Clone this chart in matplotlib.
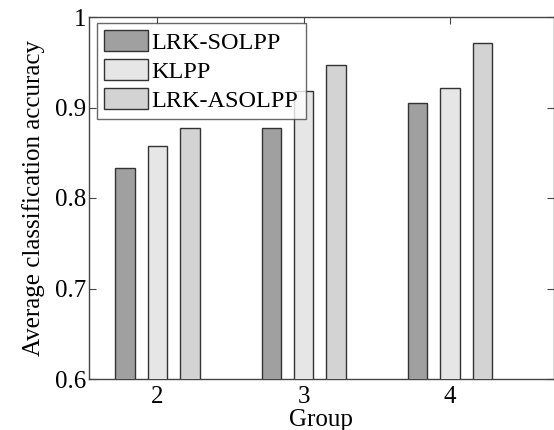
'''grouped bar chart of average classification accuracy per group
'''
import numpy as np
import matplotlib
matplotlib.use("Agg")
import matplotlib.pyplot as plt

groups = [2, 3, 4]
methods = ["LRK-SOLPP", "KLPP", "LRK-ASOLPP"]
lrk_solpp = [0.833, 0.877, 0.905]
klpp = [0.858, 0.918, 0.922]
lrk_asolpp = [0.877, 0.947, 0.971]

colors = ["#a0a0a0", "#e6e6e6", "#d3d3d3"]

plt.rcParams['font.family'] = ['Liberation Serif', 'DejaVu Serif']
plt.rcParams['font.size'] = 18

fig = plt.figure(figsize=(5.54, 4.30), dpi=100)
ax = fig.add_axes([89 / 554, 1 - 379 / 430, (553.5 - 89) / 554, (379 - 17) / 430])

x = np.array(groups, dtype=float)
width = 0.133
step = 0.222
for i, (vals, name) in enumerate(zip([lrk_solpp, klpp, lrk_asolpp], methods)):
    ax.bar(x + (i - 1) * step, vals, width, color=colors[i], edgecolor="#333333",
           linewidth=1.0, label=name, zorder=3)

ax.set_xlim(1.532, 4.708)
ax.set_ylim(0.6, 1.0)
ax.set_xticks(groups)
ax.set_yticks([0.6, 0.7, 0.8, 0.9, 1.0])
ax.set_yticklabels(["0.6", "0.7", "0.8", "0.9", "1"])
ax.tick_params(direction="in", top=True, right=True, length=5, width=0.8,
               color="#444444")
ax.tick_params(axis="x", pad=5)
ax.tick_params(axis="y", pad=2)
for s in ax.spines.values():
    s.set_color("#444444")
    s.set_linewidth(1.0)

ax.set_xlabel("Group", labelpad=1)
ax.set_ylabel("Average classification accuracy", labelpad=7)

leg = ax.legend(loc="upper left", bbox_to_anchor=(0.017, 0.983), frameon=True,
                fancybox=False, fontsize=17.5, borderpad=0.3, labelspacing=0.2,
                handlelength=1.8, handleheight=0.95, handletextpad=0.15,
                borderaxespad=0.0)
leg.get_frame().set_edgecolor("#444444")
leg.get_frame().set_linewidth(1.0)

plt.savefig("out.png", dpi=100)
